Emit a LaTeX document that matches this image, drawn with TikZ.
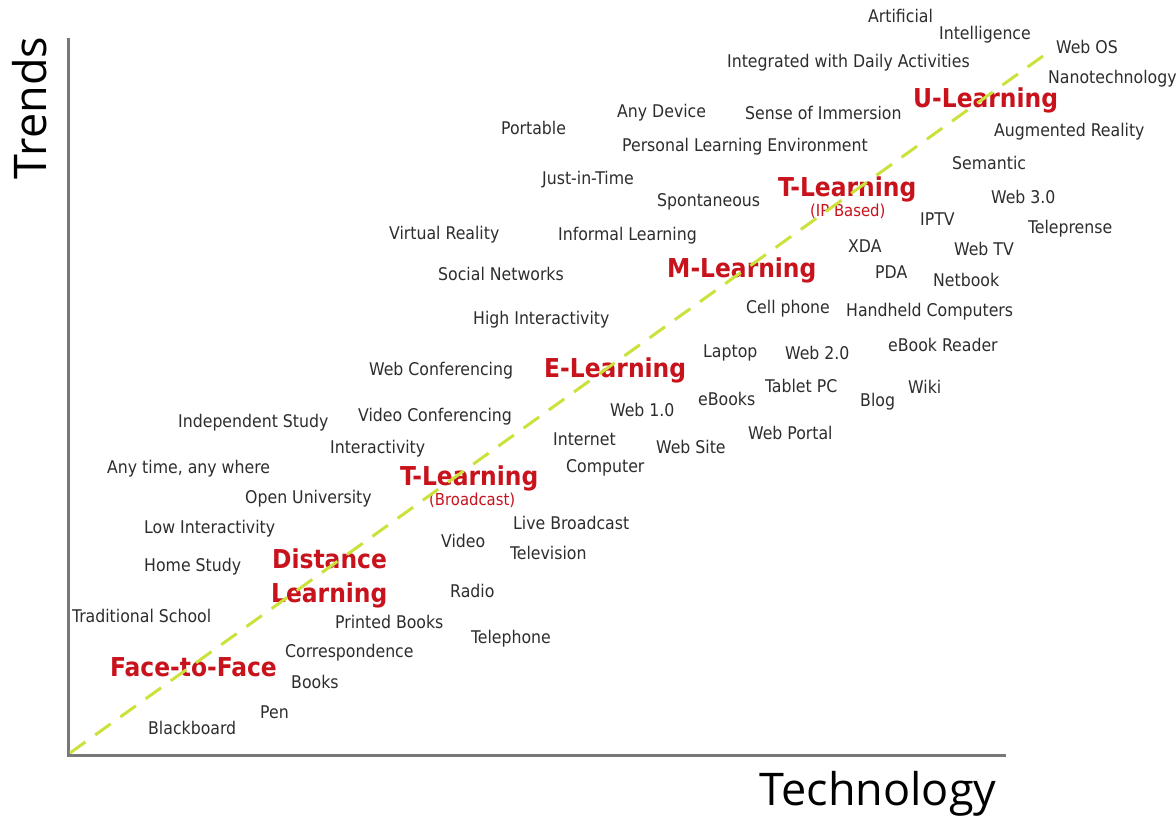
\documentclass[tikz,border=0pt]{standalone}
\usepackage{fontspec}
\setmainfont{DejaVu Sans}
\newfontfamily\labelfont{DejaVu Sans Condensed}[BoldFont={DejaVu Sans Condensed Bold}]
\newfontfamily\axisfont{Open Sans}
\definecolor{itemgray}{RGB}{45,45,45}
\definecolor{eraRed}{RGB}{200,18,28}
\definecolor{trendGreen}{RGB}{205,225,60}
\definecolor{axisGray}{RGB}{120,120,120}

\tikzset{
  item/.style={anchor=west, inner sep=0pt, text=itemgray, text height=14pt, text depth=1.4pt,
    font=\labelfont\fontsize{17.5}{20}\selectfont},
  era/.style={anchor=west, inner sep=0pt, text=eraRed, text height=20.8pt, text depth=2.1pt,
    font=\labelfont\bfseries\fontsize{26}{30}\selectfont},
  erasub/.style={anchor=west, inner sep=0pt, text=eraRed, text height=13.2pt, text depth=1.3pt,
    font=\labelfont\fontsize{16.5}{19}\selectfont},
  axislabel/.style={anchor=base, inner sep=0pt, text=black, font=\axisfont\fontsize{45}{50}\selectfont}
}

\begin{document}
\begin{tikzpicture}[x=1pt,y=-1pt]
\useasboundingbox[fill=white] (0,0) rectangle (1176,821);

% axes
\coordinate (origin) at (68,755);
\coordinate (ytop) at (68,38);
\coordinate (xend) at (1006,755);
\draw[axisGray, line width=3pt] (ytop) -- (origin) -- (xend);
\node[axislabel, rotate=90] (trends) at (46,108) {Trends};
\node[axislabel] (technology) at (878,805) {Technology};

% ubiquitous
\node[item] (artificial) at (868,16) {Artificial};
\node[item] (intelligence) at (939,33) {Intelligence};
\node[item] (webos) at (1056,47) {Web OS};
\node[item] (daily) at (727,61) {Integrated with Daily Activities};
\node[item] (nano) at (1048,77) {Nanotechnology};
\node[era] (ulearn) at (913,98) {U-Learning};
\node[item] (anydevice) at (617,111) {Any Device};
\node[item] (immersion) at (745,113) {Sense of Immersion};
\node[item] (portable) at (501,128) {Portable};
\node[item] (augmented) at (994,130) {Augmented Reality};
\node[item] (ple) at (622,145) {Personal Learning Environment};
\node[item] (semantic) at (952,163) {Semantic};

% ip based
\node[item] (jit) at (542,178) {Just-in-Time};
\node[era] (tlearnip) at (778,187) {T-Learning};
\node[erasub] (ipbased) at (810,211) {(IP Based)};
\node[item] (spontaneous) at (657,200) {Spontaneous};
\node[item] (webthree) at (991,197) {Web 3.0};
\node[item] (iptv) at (920,219) {IPTV};
\node[item] (teleprense) at (1028,227) {Teleprense};
\node[item] (virtual) at (389,233) {Virtual Reality};
\node[item] (informal) at (558,234) {Informal Learning};
\node[item] (xda) at (848,246) {XDA};
\node[item] (webtv) at (954,249) {Web TV};

% mobile
\node[era] (mlearn) at (667,268) {M-Learning};
\node[item] (social) at (438,274) {Social Networks};
\node[item] (pda) at (875,272) {PDA};
\node[item] (netbook) at (933,280) {Netbook};
\node[item] (cellphone) at (746,307) {Cell phone};
\node[item] (handheld) at (846,310) {Handheld Computers};
\node[item] (highinter) at (473,318) {High Interactivity};
\node[item] (ebookreader) at (888,345) {eBook Reader};
\node[item] (laptop) at (703,351) {Laptop};
\node[item] (webtwo) at (785,353) {Web 2.0};

% electronic
\node[item] (webconf) at (369,369) {Web Conferencing};
\node[era] (elearn) at (544,368) {E-Learning};
\node[item] (tablet) at (765,386) {Tablet PC};
\node[item] (wiki) at (908,387) {Wiki};
\node[item] (blog) at (860,400) {Blog};
\node[item] (ebooks) at (698,399) {eBooks};
\node[item] (webone) at (610,410) {Web 1.0};
\node[item] (videoconf) at (358,415) {Video Conferencing};
\node[item] (independent) at (178,421) {Independent Study};
\node[item] (webportal) at (748,433) {Web Portal};
\node[item] (internet) at (553,439) {Internet};
\node[item] (interactivity) at (330,447) {Interactivity};
\node[item] (website) at (656,447) {Web Site};

% broadcast
\node[item] (anytime) at (107,467) {Any time, any where};
\node[item] (computer) at (566,466) {Computer};
\node[era] (tlearnbc) at (400,476) {T-Learning};
\node[erasub] (broadcast) at (429,500) {(Broadcast)};
\node[item] (openuni) at (245,497) {Open University};
\node[item] (lowinter) at (144,527) {Low Interactivity};
\node[item] (livebc) at (513,523) {Live Broadcast};
\node[item] (video) at (441,541) {Video};
\node[item] (television) at (510,553) {Television};

% distance
\node[era] (distance) at (272,559) {Distance};
\node[era] (distlearn) at (271,593) {Learning};
\node[item] (homestudy) at (144,565) {Home Study};
\node[item] (radio) at (450,591) {Radio};
\node[item] (traditional) at (72,616) {Traditional School};
\node[item] (printed) at (335,622) {Printed Books};
\node[item] (telephone) at (471,637) {Telephone};
\node[item] (correspondence) at (285,651) {Correspondence};

% face to face
\node[era] (face) at (110,667) {Face-to-Face};
\node[item] (books) at (291,682) {Books};
\node[item] (pen) at (260,712) {Pen};
\node[item] (blackboard) at (148,728) {Blackboard};

% trend line
\coordinate (trendstart) at (70,753);
\coordinate (trendend) at (1043,56);
\draw[trendGreen, line width=3pt, dash pattern=on 19pt off 12pt] (trendstart) -- (trendend);
\end{tikzpicture}
\end{document}
